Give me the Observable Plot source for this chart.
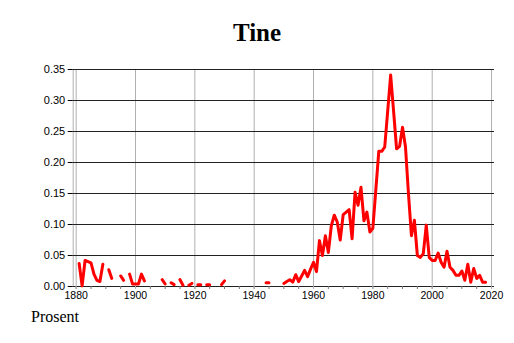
<!DOCTYPE html>
<html><head><meta charset="utf-8">
<script src="https://cdn.jsdelivr.net/npm/d3@7"></script>
<script src="https://cdn.jsdelivr.net/npm/@observablehq/plot@0.6"></script>
<style>
body{margin:0;background:#fff;width:514px;height:343px;position:relative;overflow:hidden}
#title{position:absolute;left:0;top:19px;width:514px;text-align:center;font:bold 25px "Liberation Serif",serif;line-height:28px;color:#000}
#chart{position:absolute;left:0;top:55px}
#caption{position:absolute;left:31px;top:307px;font:16px "Liberation Serif",serif;line-height:20px;color:#000}
</style></head><body>
<div id="title">Tine</div>
<div id="chart"></div>
<div id="caption">Prosent</div>
<script>
const titleText = "Tine";
const captionText = "Prosent";
const startYear = 1880;
// share per year 1880..2018 (null = no data)
const values = [
  null, 0.037, 0.001, 0.042, 0.040, 0.038, 0.020, 0.010, 0.008, 0.036, // 1880-1889
  null, 0.027, 0.013, null, null, 0.017, 0.010, null, 0.020, 0.004,     // 1890-1899
  0.004, 0.004, 0.020, 0.009, null, null, null, null, null, 0.011,      // 1900-1909
  0.004, null, 0.006, 0.003, null, 0.011, 0.002, null, 0.002, 0.005,    // 1910-1919
  null, 0.003, 0.003, null, 0.003, 0.003, null, null, null, 0.003,      // 1920-1929
  0.009, null, null, null, null, null, null, null, null, null,          // 1930-1939
  null, null, null, null, 0.006, 0.006, null, null, null, null,         // 1940-1949
  0.005, 0.008, 0.011, 0.007, 0.019, 0.008, 0.017, 0.026, 0.016, 0.028, // 1950-1959
  0.039, 0.024, 0.074, 0.050, 0.082, 0.055, 0.098, 0.115, 0.104, 0.075, // 1960-1969
  0.116, 0.120, 0.124, 0.077, 0.152, 0.131, 0.160, 0.106, 0.120, 0.088, // 1970-1979
  0.094, 0.156, 0.218, 0.218, 0.225, 0.283, 0.341, 0.282, 0.222, 0.226, // 1980-1989
  0.257, 0.225, 0.150, 0.082, 0.107, 0.050, 0.047, 0.053, 0.099, 0.047, // 1990-1999
  0.042, 0.042, 0.054, 0.039, 0.031, 0.057, 0.031, 0.026, 0.018, 0.018, // 2000-2009
  0.025, 0.010, 0.036, 0.007, 0.029, 0.013, 0.018, 0.007, 0.007         // 2010-2018
];
const yTicks = [0, 0.05, 0.10, 0.15, 0.20, 0.25, 0.30, 0.35];
const xLabelTicks = [1880, 1900, 1920, 1940, 1960, 1980, 2000, 2020];
const xMinorTicks = [1880,1885,1890,1895,1900,1905,1910,1915,1920,1925,1930,1935,1940,1945,1950,1955,1960,1965,1970,1975,1980,1985,1990,1995,2000,2005,2010,2015,2020];
const xDomain = [1879, 2021];
const yDomain = [0, 0.35];

const data = values.map((v, i) => ({year: startYear + i, share: v}));

const chart = Plot.plot({
  width: 514, height: 250,
  marginLeft: 72.7, marginRight: 20, marginTop: 14, marginBottom: 19,
  x: {domain: xDomain, label: null},
  y: {domain: yDomain, label: null},
  style: {fontFamily: '"Liberation Sans", Arial, sans-serif', color: "#000", background: "#fff", overflow: "visible"},
  marks: [
    Plot.ruleX(xLabelTicks, {stroke: "#b0b0b0", strokeWidth: 1}),
    Plot.ruleX([xDomain[0]], {stroke: "#b0b0b0", strokeWidth: 1}),
    Plot.ruleY(yTicks, {stroke: "#222", strokeWidth: 1}),
    Plot.axisY({ticks: yTicks, tickFormat: ".2f", tickSize: 5, tickPadding: 3, fontSize: 11, stroke: "#000", label: null}),
    Plot.axisX({ticks: xMinorTicks, tickSize: 3, tickFormat: () => "", stroke: "#777", label: null}),
    Plot.axisX({ticks: xLabelTicks, tickSize: 3, tickPadding: 2, tickFormat: d => String(d), fontSize: 10.5, stroke: "#b0b0b0", label: null}),
    Plot.lineY(data, {x: "year", y: "share", stroke: "#ff0000", strokeWidth: 3})
  ]
});
document.getElementById("chart").appendChild(chart);
document.getElementById("title").textContent = titleText;
document.getElementById("caption").textContent = captionText;
</script>
</body></html>
